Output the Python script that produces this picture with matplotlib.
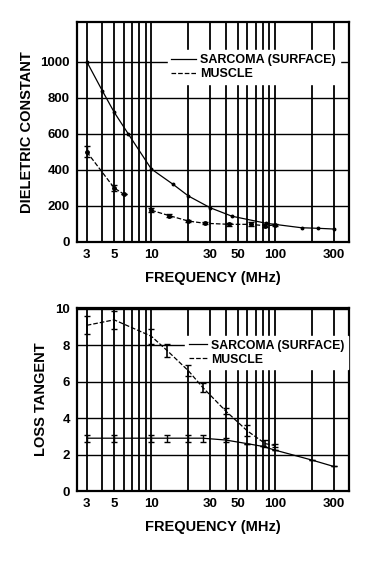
import numpy as np
import matplotlib
matplotlib.use('Agg')
import matplotlib.pyplot as plt
from matplotlib.lines import Line2D

plt.rcParams['font.family'] = ['Liberation Sans', 'DejaVu Sans']
plt.rcParams['font.weight'] = 'bold'

# top panel: dielectric constant
freq_sarc_top = [3, 4, 5, 6.5, 10, 15, 20, 30, 45, 85, 165, 225, 300]
eps_sarc = [1000, 840, 720, 600, 405, 320, 255, 190, 143, 104, 79, 76, 72]
freq_musc_top = [3, 5, 6, np.nan, 10, 14, 20, 27, 43, 64, 84, 100]
eps_musc = [500, 300, 265, np.nan, 176, 146, 116, 104, 98, 98, 90, 94]
eps_musc_err = [30, 15, 0, 0, 10, 8, 6, 6, 8, 12, 8, 6]

# bottom panel: loss tangent
freq_musc_bot = [3, 5, 10, 13.5, 20, 26, 40, 60, 84, 100]
lt_musc = [9.1, 9.4, 8.5, 7.7, 6.6, 5.7, 4.4, 3.3, 2.6, 2.5]
lt_musc_err = [0.5, 0.5, 0.4, 0.35, 0.3, 0.25, 0.15, 0.3, 0.2, 0.1]
freq_sarc_bot = [3, 5, 10, 13.5, 20, 26, 40, 60, 80, 100, 200, 300]
lt_sarc = [2.9, 2.9, 2.9, 2.9, 2.9, 2.9, 2.8, 2.6, 2.45, 2.25, 1.7, 1.35]
lt_sarc_err = [0.2, 0.2, 0.2, 0.2, 0.2, 0.2, 0.1, 0, 0, 0, 0, 0]

xticks = [3, 5, 10, 30, 50, 100, 300]
grid_x = [3, 4, 5, 6, 7, 8, 9, 10, 20, 30, 40, 50, 60, 70, 80, 90, 100, 200, 300]

W, H = 390, 569
fig = plt.figure(figsize=(W / 100, H / 100), dpi=100)
ax1 = fig.add_axes([77 / W, 1 - 242 / H, 272 / W, 220 / H])
ax2 = fig.add_axes([77 / W, 1 - 491 / H, 272 / W, 183 / H])


def style_axis(ax, ylim, yticks, ylabel):
    ax.set_xscale('log')
    ax.set_xlim(2.5, 400)
    ax.set_ylim(*ylim)
    for gx in grid_x:
        ax.axvline(gx, color='black', lw=1.3, zorder=0)
    for gy in yticks[1:]:
        ax.axhline(gy, color='black', lw=1.0, zorder=0)
    ax.set_xticks(xticks)
    ax.set_xticklabels([str(t) for t in xticks])
    ax.xaxis.set_minor_locator(matplotlib.ticker.NullLocator())
    ax.set_yticks(yticks)
    ax.tick_params(length=0, labelsize=9.5, pad=5)
    for s in ax.spines.values():
        s.set_linewidth(1.6)
    ax.set_xlabel('FREQUENCY (MHz)', fontsize=10.5, fontweight='bold', labelpad=7)
    ax.set_ylabel(ylabel, fontsize=10.5, fontweight='bold', labelpad=5)


style_axis(ax1, (0, 1220), [0, 200, 400, 600, 800, 1000], 'DIELETRIC CONSTANT')
style_axis(ax2, (0, 10.05), [0, 2, 4, 6, 8, 10], 'LOSS TANGENT')

ax1.plot(freq_sarc_top, eps_sarc, '-', color='black', lw=0.9,
         marker='o', ms=1.8, zorder=3)
ax1.errorbar(freq_musc_top, eps_musc, yerr=eps_musc_err, fmt='--', color='black',
             lw=0.9, marker='o', ms=2.5, capsize=2, elinewidth=1, zorder=3)

ax2.errorbar(freq_sarc_bot, lt_sarc, yerr=lt_sarc_err, fmt='-', color='black',
             lw=0.9, capsize=2, elinewidth=1, zorder=3)
ax2.errorbar(freq_musc_bot, lt_musc, yerr=lt_musc_err, fmt='--', color='black',
             lw=0.9, capsize=2, elinewidth=1.2, zorder=3)

handles = [Line2D([], [], color='black', lw=0.9, ls='-'),
           Line2D([], [], color='black', lw=0.9, ls='--')]
labels = ['SARCOMA (SURFACE)', 'MUSCLE']
for ax, anchor, hl, fs in [(ax1, (0.31, 0.90), 2.0, 9), (ax2, (0.375, 0.88), 1.5, 8.8)]:
    leg = ax.legend(handles, labels, loc='upper left', bbox_to_anchor=anchor,
                    frameon=True, fancybox=False, handlelength=hl,
                    handletextpad=0.3, labelspacing=0.15, borderpad=0.3,
                    prop={'size': fs, 'weight': 'bold'})
    leg.get_frame().set_edgecolor('white')
    leg.get_frame().set_alpha(1)
    leg.set_zorder(2.5)

fig.savefig('out.png', dpi=100)
plt.close('all')
